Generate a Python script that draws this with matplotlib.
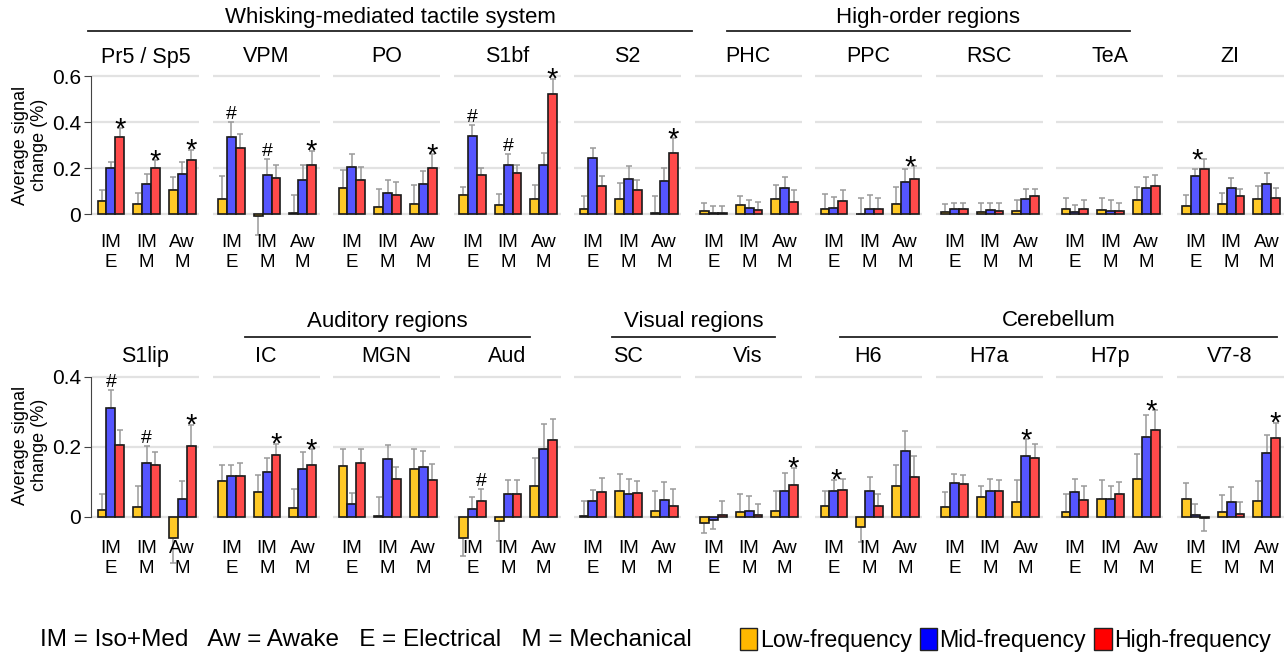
import matplotlib
matplotlib.use('Agg')
import matplotlib.pyplot as plt
from matplotlib import font_manager
from matplotlib.patches import Patch
from matplotlib.lines import Line2D
import numpy as np

W, H = 1285, 655

names = {f.name for f in font_manager.fontManager.ttflist}
BASE = 'Liberation Sans'
NARROW = 'Liberation Sans Narrow' if 'Liberation Sans Narrow' in names else BASE
plt.rcParams['font.family'] = [BASE, 'DejaVu Sans']

groups = ['IM\nE', 'IM\nM', 'Aw\nM']
freq_names = ['Low-frequency', 'Mid-frequency', 'High-frequency']
bar_colors = ['#FFC926', '#5555FF', '#FF4A4A']
legend_colors = ['#FFB800', '#0000FF', '#FF0000']

# ---- top row: mean (%), per group IME / IMM / AwM ----
top_regions = ['Pr5 / Sp5', 'VPM', 'PO', 'S1bf', 'S2', 'PHC', 'PPC', 'RSC', 'TeA', 'ZI']
top_low = [[0.058, 0.042, 0.104], [0.066, -0.010, 0.003], [0.113, 0.030, 0.045],
           [0.081, 0.038, 0.064], [0.023, 0.065, 0.006], [0.012, 0.038, 0.066],
           [0.020, 0.000, 0.045], [0.007, 0.010, 0.014], [0.022, 0.019, 0.059],
           [0.033, 0.042, 0.064]]
top_low_err = [[0.045, 0.051, 0.056], [0.099, 0.080, 0.078], [0.079, 0.077, 0.081],
               [0.036, 0.047, 0.062], [0.054, 0.068, 0.071], [0.038, 0.039, 0.060],
               [0.065, 0.068, 0.072], [0.035, 0.036, 0.045], [0.046, 0.052, 0.058],
               [0.048, 0.049, 0.056]]
top_mid = [[0.198, 0.129, 0.176], [0.333, 0.168, 0.147], [0.204, 0.090, 0.130],
           [0.337, 0.215, 0.211], [0.244, 0.153, 0.145], [0.003, 0.027, 0.111],
           [0.025, 0.022, 0.137], [0.023, 0.016, 0.066], [0.007, 0.014, 0.111],
           [0.165, 0.111, 0.129]]
top_mid_err = [[0.030, 0.043, 0.048], [0.067, 0.069, 0.067], [0.055, 0.056, 0.058],
               [0.048, 0.047, 0.056], [0.045, 0.054, 0.055], [0.030, 0.035, 0.052],
               [0.047, 0.059, 0.058], [0.026, 0.033, 0.044], [0.032, 0.045, 0.052],
               [0.032, 0.044, 0.049]]
top_high = [[0.333, 0.200, 0.236], [0.288, 0.155, 0.215], [0.149, 0.084, 0.200],
            [0.168, 0.179, 0.523], [0.121, 0.104, 0.266], [0.003, 0.017, 0.053],
            [0.058, 0.022, 0.152], [0.020, 0.014, 0.077], [0.022, 0.014, 0.121],
            [0.195, 0.078, 0.068]]
top_high_err = [[0.039, 0.033, 0.044], [0.058, 0.056, 0.061], [0.055, 0.056, 0.059],
                [0.032, 0.032, 0.065], [0.044, 0.042, 0.064], [0.030, 0.036, 0.050],
                [0.045, 0.046, 0.056], [0.026, 0.032, 0.033], [0.040, 0.032, 0.047],
                [0.042, 0.032, 0.046]]

# ---- bottom row ----
bot_regions = ['S1lip', 'IC', 'MGN', 'Aud', 'SC', 'Vis', 'H6', 'H7a', 'H7p', 'V7-8']
bot_low = [[0.019, 0.030, -0.060], [0.102, 0.072, 0.025], [0.146, 0.003, 0.138],
           [-0.060, -0.010, 0.090], [0.002, 0.073, 0.018], [-0.017, 0.013, 0.016],
           [0.032, -0.028, 0.090], [0.028, 0.058, 0.043], [0.014, 0.052, 0.108],
           [0.052, 0.014, 0.045]]
bot_low_err = [[0.047, 0.059, 0.070], [0.047, 0.049, 0.055], [0.048, 0.054, 0.057],
               [0.050, 0.058, 0.078], [0.044, 0.051, 0.056], [0.029, 0.052, 0.057],
               [0.042, 0.042, 0.060], [0.043, 0.032, 0.063], [0.052, 0.054, 0.073],
               [0.046, 0.050, 0.057]]
bot_mid = [[0.311, 0.154, 0.051], [0.117, 0.128, 0.136], [0.037, 0.166, 0.143],
           [0.023, 0.066, 0.195], [0.045, 0.067, 0.048], [-0.009, 0.018, 0.074],
           [0.073, 0.075, 0.188], [0.096, 0.075, 0.173], [0.072, 0.052, 0.229],
           [0.005, 0.044, 0.184]]
bot_mid_err = [[0.051, 0.048, 0.052], [0.031, 0.042, 0.050], [0.032, 0.040, 0.047],
               [0.035, 0.041, 0.071], [0.033, 0.043, 0.051], [0.024, 0.042, 0.051],
               [0.032, 0.039, 0.058], [0.027, 0.033, 0.049], [0.038, 0.038, 0.063],
               [0.032, 0.043, 0.049]]
bot_high = [[0.207, 0.150, 0.204], [0.117, 0.176, 0.148], [0.155, 0.110, 0.106],
            [0.047, 0.065, 0.219], [0.072, 0.069, 0.032], [0.005, 0.005, 0.092],
            [0.078, 0.032, 0.113], [0.093, 0.075, 0.169], [0.049, 0.065, 0.248],
            [-0.003, 0.009, 0.226]]
bot_high_err = [[0.041, 0.037, 0.059], [0.038, 0.033, 0.045], [0.040, 0.034, 0.046],
                [0.034, 0.042, 0.061], [0.039, 0.033, 0.047], [0.040, 0.031, 0.049],
                [0.030, 0.033, 0.061], [0.028, 0.031, 0.041], [0.040, 0.035, 0.057],
                [0.037, 0.033, 0.044]]

# significance marks: region -> (group, bar position, symbol)
marks = {
    'Pr5 / Sp5': [(0, 2, '*'), (1, 2, '*'), (2, 2, '*')],
    'VPM': [(0, 1, '#'), (1, 1, '#'), (2, 2, '*')],
    'PO': [(2, 2, '*')],
    'S1bf': [(0, 1, '#'), (1, 1, '#'), (2, 2, '*')],
    'S2': [(2, 2, '*')],
    'PPC': [(2, 1.5, '*')],
    'ZI': [(0, 1.2, '*')],
    'S1lip': [(0, 1, '#'), (1, 1, '#'), (2, 2, '*')],
    'IC': [(1, 2, '*'), (2, 2, '*')],
    'Aud': [(0, 2, '#')],
    'Vis': [(2, 2, '*')],
    'H6': [(0, 1.3, '*')],
    'H7a': [(2, 1, '*')],
    'H7p': [(2, 1.5, '*')],
    'V7-8': [(2, 2, '*')],
}

# header groups: (title, x0 px, x1 px)
top_headers = [('Whisking-mediated tactile system', 88, 692),
               ('High-order regions', 727, 1130)]
bot_headers = [('Auditory regions', 245, 530),
               ('Visual regions', 612, 775),
               ('Cerebellum', 840, 1277)]

fig = plt.figure(figsize=(W / 100, H / 100), dpi=100)


def px_rect(x0, y0, w, h):
    return [x0 / W, 1 - (y0 + h) / H, w / W, h / H]


def draw_row(regions, means, errs, ylim, yticks, zero_px, scale, label_y, title_y,
             ylabel_y):
    x = np.arange(len(groups))
    bw = 0.25
    top_px = zero_px - ylim[1] * scale
    h_px = (ylim[1] - ylim[0]) * scale
    for i, reg in enumerate(regions):
        ax = fig.add_axes(px_rect(92 + 120.5 * i, top_px, 107, h_px))
        tips = np.zeros((3, 3))
        for k in range(3):
            m = np.array(means[k][i])
            e = np.array(errs[k][i])
            xs = x + (k - 1) * bw
            lower = np.where(m < 0, e, 0)
            upper = np.where(m >= 0, e, 0)
            ax.errorbar(xs, m, yerr=[lower, upper], fmt='none', ecolor='#9a9a9a',
                        elinewidth=1.1, capsize=2.5, capthick=1.1, zorder=2)
            ax.bar(xs, m, bw, color=bar_colors[k], edgecolor='#1a1a1a',
                   linewidth=1.2, zorder=3)
            tips[:, k] = m + upper
        for g, pos, sym in marks.get(reg, []):
            yt = tips[g].max()
            if sym == '*':
                ax.annotate(sym, (x[g] + (pos - 1) * bw, yt), xytext=(0, -9),
                            textcoords='offset pixels', ha='center', va='baseline',
                            fontsize=21, annotation_clip=False)
            else:
                ax.annotate(sym, (x[g] + (pos - 1) * bw, yt), xytext=(0, 3),
                            textcoords='offset pixels', ha='center', va='baseline',
                            fontsize=14, annotation_clip=False)
        ax.set_xlim(-0.53, 2.47)
        ax.set_ylim(*ylim)
        ax.set_yticks(yticks)
        ax.yaxis.grid(True, color='#e2e2e2', linewidth=1.6, zorder=0)
        ax.set_axisbelow(True)
        ax.set_xticks([])
        for s in ax.spines.values():
            s.set_visible(False)
        if i == 0:
            ax.spines['left'].set_visible(True)
            ax.spines['left'].set_bounds(yticks[0], yticks[-1])
            ax.spines['left'].set_color('#444444')
            ax.spines['left'].set_position(('outward', 1))
            ax.set_yticklabels(['0' if t == 0 else f'{t:.1f}' for t in yticks])
            ax.tick_params(axis='y', length=5, color='#444444', labelsize=15,
                           pad=2)
        else:
            ax.tick_params(axis='y', length=0, labelleft=False)
        ax.set_title(reg, fontsize=15.5, pad=0, y=1 - (title_y - top_px) / h_px,
                     va='center')
        trans = matplotlib.transforms.blended_transform_factory(ax.transData,
                                                                fig.transFigure)
        for gx, lab in zip(x, groups):
            ax.text(gx, 1 - label_y / H, lab, transform=trans, ha='center',
                    va='top', fontsize=13.5, linespacing=1.2)
    fig.text(30 / W, 1 - ylabel_y / H, 'Average signal\nchange (%)', rotation=90,
             ha='center', va='center', fontsize=13, multialignment='center')


draw_row(top_regions, [top_low, top_mid, top_high],
         [top_low_err, top_mid_err, top_high_err],
         (-0.11, 0.61), [0, 0.2, 0.4, 0.6], 214, 230, 234, 57, 145)
draw_row(bot_regions, [bot_low, bot_mid, bot_high],
         [bot_low_err, bot_mid_err, bot_high_err],
         (-0.14, 0.41), [0, 0.2, 0.4], 517, 350, 540, 357, 445)

for headers, ty, ly in [(top_headers, 17, 31), (bot_headers, 321, 337)]:
    for title, x0, x1 in headers:
        fig.text((x0 + x1) / 2 / W, 1 - ty / H, title, ha='center', va='center',
                 fontsize=16, family=[NARROW, BASE])
        fig.add_artist(Line2D([x0 / W, x1 / W], [1 - ly / H, 1 - ly / H],
                              color='#222222', linewidth=1.3))

fig.text(40 / W, 1 - 640 / H,
         'IM = Iso+Med   Aw = Awake   E = Electrical   M = Mechanical',
         ha='left', va='center', fontsize=17.5, family=[NARROW, BASE])
handles = [Patch(facecolor=c, edgecolor='#222222', linewidth=1.0)
           for c in legend_colors]
fig.legend(handles, freq_names, loc='center left',
           bbox_to_anchor=(740 / W, 1 - 640 / H), ncol=3, frameon=False,
           handlelength=0.75, handleheight=1.1, handletextpad=0.1,
           columnspacing=0.35, borderpad=0, borderaxespad=0,
           prop={'family': [NARROW, BASE], 'size': 16.7})

fig.savefig('out.png', dpi=100)
